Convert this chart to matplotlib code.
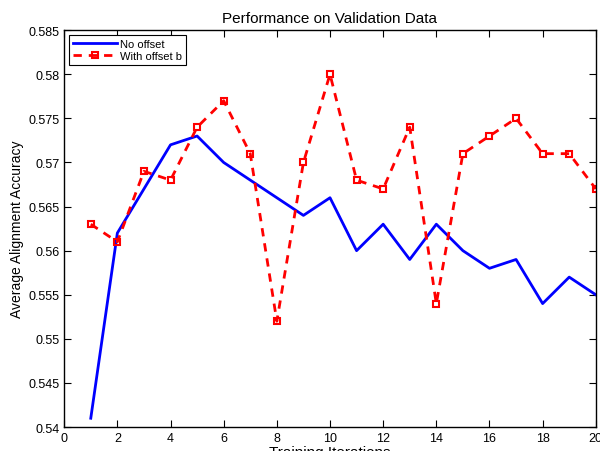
import matplotlib
matplotlib.use("Agg")
import matplotlib.pyplot as plt

plt.rcParams["font.family"] = ["Liberation Sans", "DejaVu Sans"]

iters = list(range(1, 21))
no_offset = [0.541, 0.562, 0.567, 0.572, 0.573, 0.570, 0.568, 0.566, 0.564, 0.566,
             0.560, 0.563, 0.559, 0.563, 0.560, 0.558, 0.559, 0.554, 0.557, 0.555]
with_offset = [0.563, 0.561, 0.569, 0.568, 0.574, 0.577, 0.571, 0.552, 0.570, 0.580,
               0.568, 0.567, 0.574, 0.554, 0.571, 0.573, 0.575, 0.571, 0.571, 0.567]

fig = plt.figure(figsize=(6.0, 4.52), dpi=100)
ax = fig.add_axes([0.107, 0.053, 0.886, 0.878])

ax.plot(iters, no_offset, color="#0000ff", linewidth=2, label="No offset")
ax.plot(iters, with_offset, color="#ff0000", linewidth=2, linestyle=(0, (3, 2.5)),
        marker="s", markersize=5, markerfacecolor="none", markeredgecolor="#ff0000",
        markeredgewidth=1.5, label="With offset b")

ax.set_xlim(0, 20)
ax.set_ylim(0.54, 0.585)
ax.set_xticks(range(0, 21, 2))
ax.set_yticks([0.54, 0.545, 0.55, 0.555, 0.56, 0.565, 0.57, 0.575, 0.58, 0.585])
ax.set_yticklabels(["0.54", "0.545", "0.55", "0.555", "0.56", "0.565", "0.57", "0.575", "0.58", "0.585"])
ax.tick_params(direction="in", top=True, right=True, labelsize=9, length=5, width=0.8)
for s in ax.spines.values():
    s.set_linewidth(1.0)

ax.set_title("Performance on Validation Data", fontsize=11, pad=6)
ax.set_xlabel("Training Iterations", fontsize=11, labelpad=1)
ax.set_ylabel("Average Alignment Accuracy", fontsize=10, labelpad=3)

leg = ax.legend(loc="upper left", fontsize=8, fancybox=False, framealpha=1,
                edgecolor="black", borderpad=0.35, handlelength=4, labelspacing=0.25,
                borderaxespad=0.4, handletextpad=0.3)
leg.get_frame().set_linewidth(0.8)

fig.savefig("out.png", dpi=100)
